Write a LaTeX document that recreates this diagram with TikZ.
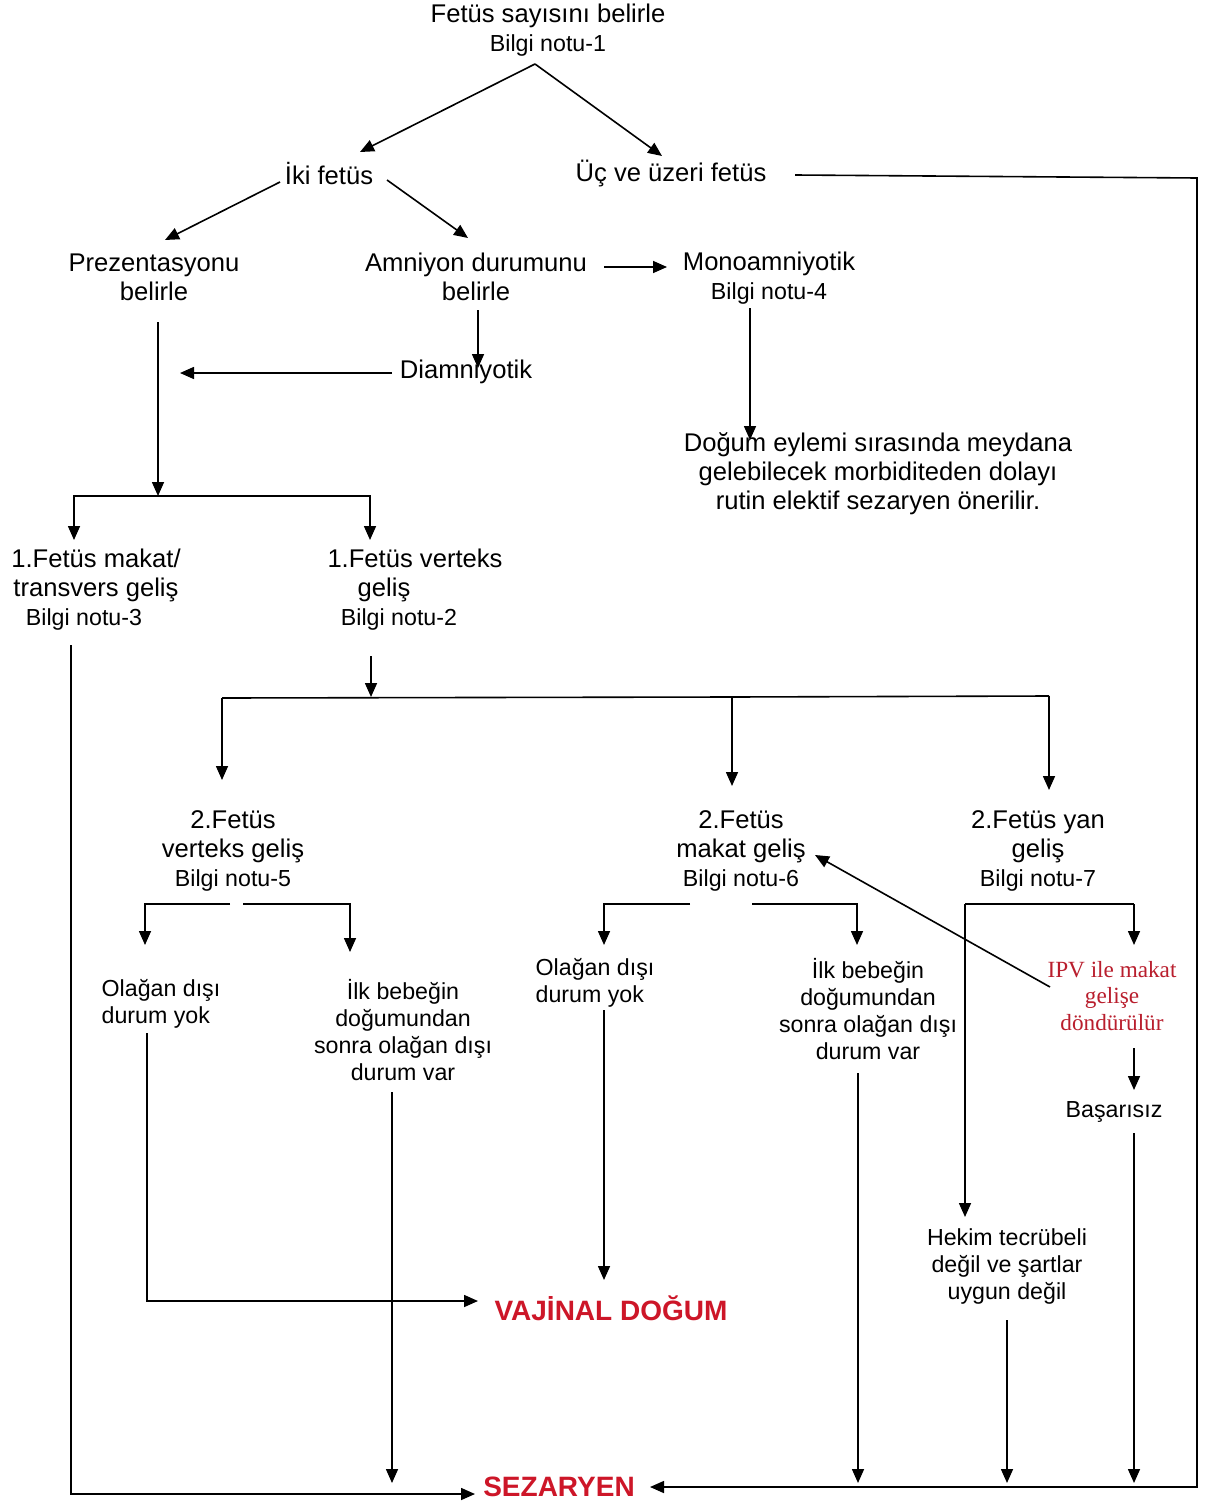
\documentclass[tikz,border=0pt]{standalone}
\usepackage{fontspec}
\setmainfont{Liberation Sans}
\newfontfamily\ipvfont{Liberation Serif}
\usetikzlibrary{arrows.meta,calc}
\definecolor{bigred}{RGB}{205,22,40}
\definecolor{ipvred}{RGB}{185,30,45}
\newcommand{\bilgi}[1]{{\fontsize{11.6}{14.5}\selectfont #1}}
\begin{document}
\begin{tikzpicture}[x=0.5pt,y=-0.5pt,
  lbl/.style={font=\fontsize{12.8}{14.5}\selectfont, align=center, inner sep=0pt},
  sm/.style={font=\fontsize{11.6}{13.5}\selectfont, align=center, inner sep=0pt},
  smleft/.style={sm, align=left},
  ipvs/.style={font=\ipvfont\fontsize{11.6}{13.3}\selectfont, text=ipvred, align=center, inner sep=0pt},
  big/.style={font=\fontsize{14}{16}\selectfont\bfseries, text=bigred, inner sep=0pt},
  ln/.style={line width=0.8pt},
  arr/.style={ln,-{Triangle[length=7pt,width=6pt]}}]
\fill[white] (0,0) rectangle (1204,1503);
\useasboundingbox (0,0) rectangle (1204,1503);

% nodes
\node[lbl] (n1) at (548,30) {Fetüs sayısını belirle\\\bilgi{Bilgi notu-1}};
\node[lbl] (iki) at (329,174) {İki fetüs};
\node[lbl] (uc) at (671,174) {Üç ve üzeri fetüs};
\node[lbl] (pre) at (154,277) {Prezentasyonu\\belirle};
\node[lbl] (amn) at (476,277) {Amniyon durumunu\\belirle};
\node[lbl] (mono) at (769,278) {Monoamniyotik\\\bilgi{Bilgi notu-4}};
\node[lbl] (dia) at (466,372) {Diamniyotik};
\node[lbl] (dog) at (878,474) {Doğum eylemi sırasında meydana\\gelebilecek morbiditeden dolayı\\rutin elektif sezaryen önerilir.};
\node[lbl] (f1m) at (96,590) {1.Fetüs makat/\\transvers geliş\\\bilgi{\mbox{Bilgi notu-3\hspace{12pt}}}};
\node[lbl] (f1v) at (415,590) {1.Fetüs verteks\\\mbox{geliş\hspace{31pt}}\\\bilgi{\mbox{Bilgi notu-2\hspace{16pt}}}};
\node[lbl] (f2v) at (233,851) {2.Fetüs\\verteks geliş\\\bilgi{Bilgi notu-5}};
\node[lbl] (f2m) at (741,851) {2.Fetüs\\makat geliş\\\bilgi{Bilgi notu-6}};
\node[lbl] (f2y) at (1038,851) {2.Fetüs yan\\geliş\\\bilgi{Bilgi notu-7}};
\node[smleft] (ov) at (161,1004) {Olağan dışı\\durum yok};
\node[sm] (iv) at (403,1030) {İlk bebeğin\\doğumundan\\sonra olağan dışı\\durum var};
\node[smleft] (om) at (595,983) {Olağan dışı\\durum yok};
\node[sm] (im) at (868,1009) {İlk bebeğin\\doğumundan\\sonra olağan dışı\\durum var};
\node[ipvs] (ipv) at (1112,996) {IPV ile makat\\gelişe\\döndürülür};
\node[sm] (bas) at (1114,1112) {Başarısız};
\node[sm] (hek) at (1007,1266) {Hekim tecrübeli\\değil ve şartlar\\uygun değil};
\node[big] (vaj) at (611,1308) {VAJİNAL DOĞUM};
\node[big] (sez) at (559,1487) {SEZARYEN};

% helper coordinates
\coordinate (cR1) at (1197,178);
\coordinate (cR2) at (1197,1487);
\coordinate (cDia) at (180,373);
\coordinate (cPre) at (158,496);
\coordinate (cV) at (371,697);
\coordinate (cH1) at (222,698);
\coordinate (cHm) at (732,697);
\coordinate (cH2) at (1049,696);
\coordinate (cY) at (965,904);
\coordinate (cY2) at (1134,904);

% connectors
\draw[arr] ($(n1)+(-13,34)$) -- ($(iki)+(31,-22)$);
\draw[arr] ($(n1)+(-13,34)$) -- ($(uc)+(-9,-18)$);
\draw[arr] ($(uc)+(124,1)$) -- (cR1) -- (cR2) -- ($(sez)+(91,0)$);
\draw[arr] ($(iki)+(-49,8)$) -- ($(pre)+(11,-37)$);
\draw[arr] ($(iki)+(58,6)$) -- ($(amn)+(-8,-39)$);
\draw[arr] ($(amn)+(128,-10)$) -- ($(mono)+(-102,-11)$);
\draw[arr] ($(amn)+(2,33)$) -- ($(dia)+(12,-4)$);
\draw[arr] ($(dia)+(-74,1)$) -- (cDia);
\draw[arr] ($(mono)+(-19,30)$) -- ($(dog)+(-128,-34)$);
\draw[arr] ($(pre)+(4,45)$) -- (cPre);
\draw[arr] (cPre) -| ($(f1m)+(-22,-50)$);
\draw[arr] (cPre) -| ($(f1v)+(-45,-50)$);
\draw[arr] ($(f1m)+(-25,55)$) |- ($(sez)+(-84,7)$);
\draw[arr] ($(f1v)+(-44,66)$) -- (cV);
\draw[ln] (cH1) -- (cHm) -- (cH2);
\draw[arr] (cH1) -- ($(f2v)+(-11,-71)$);
\draw[arr] (cHm) -- ($(f2m)+(-9,-65)$);
\draw[arr] (cH2) -- ($(f2y)+(11,-61)$);
\draw[arr] ($(f2v)+(-3,53)$) -| ($(ov)+(-16,-59)$);
\draw[arr] ($(f2v)+(10,53)$) -| ($(iv)+(-53,-78)$);
\draw[arr] ($(ov)+(-14,29)$) |- ($(vaj)+(-133,-7)$);
\draw[arr] ($(iv)+(-11,62)$) -- ($(sez)+(-167,-4)$);
\draw[arr] ($(f2m)+(-51,53)$) -| ($(om)+(9,-38)$);
\draw[arr] ($(f2m)+(11,53)$) -| ($(im)+(-11,-64)$);
\draw[arr] ($(om)+(9,27)$) -- ($(vaj)+(-7,-28)$);
\draw[arr] ($(im)+(-10,64)$) -- ($(sez)+(299,-4)$);
\draw[ln] (cY) -- (cY2);
\draw[arr] (cY) -- ($(hek)+(-42,-49)$);
\draw[arr] (cY2) -- ($(ipv)+(22,-51)$);
\draw[arr] ($(ipv)+(-62,-9)$) -- ($(f2m)+(74,4)$);
\draw[arr] ($(ipv)+(22,52)$) -- ($(bas)+(20,-22)$);
\draw[arr] ($(bas)+(20,21)$) -- ($(sez)+(575,-4)$);
\draw[arr] ($(hek)+(0,54)$) -- ($(sez)+(448,-4)$);
\end{tikzpicture}
\end{document}
